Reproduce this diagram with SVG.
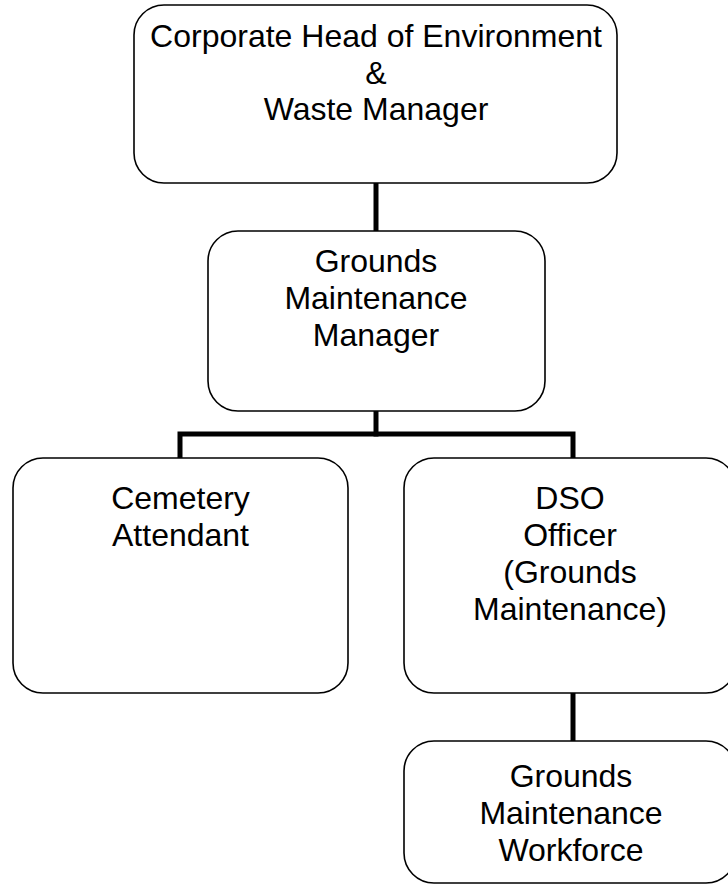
<svg xmlns="http://www.w3.org/2000/svg" width="728" height="886" viewBox="0 0 728 886">
<style>
.box{fill:#fff;stroke:#000;stroke-width:1.6}
.lbl{font-family:"Liberation Sans",Arial,sans-serif;font-size:32px;fill:#000;text-anchor:middle}
.conn{fill:none;stroke:#000;stroke-width:5;stroke-linecap:square}
</style>
<rect width="728" height="886" fill="#fff"/>
<g id="connectors">
<line class="conn" x1="376" y1="184" x2="376" y2="230"/>
<line class="conn" x1="376" y1="411" x2="376" y2="434"/>
<polyline class="conn" points="180,457 180,434 573,434 573,457"/>
<line class="conn" x1="573" y1="693" x2="573" y2="740"/>
</g>
<g id="corporate-head">
<rect class="box" x="134" y="5" width="483" height="178" rx="30"/>
<text class="lbl" x="376" y="47">Corporate Head of Environment</text>
<text class="lbl" x="376" y="84">&amp;</text>
<text class="lbl" x="376" y="120">Waste Manager</text>
</g>
<g id="grounds-manager">
<rect class="box" x="208" y="231" width="337" height="180" rx="30"/>
<text class="lbl" x="376" y="272">Grounds</text>
<text class="lbl" x="376" y="309">Maintenance</text>
<text class="lbl" x="376" y="346">Manager</text>
</g>
<g id="cemetery-attendant">
<rect class="box" x="13" y="458" width="335" height="235" rx="30"/>
<text class="lbl" x="180.5" y="509">Cemetery</text>
<text class="lbl" x="180.5" y="546">Attendant</text>
</g>
<g id="dso-officer">
<rect class="box" x="404" y="458" width="332" height="235" rx="30"/>
<text class="lbl" x="570" y="509">DSO</text>
<text class="lbl" x="570" y="546">Officer</text>
<text class="lbl" x="570" y="583">(Grounds</text>
<text class="lbl" x="570" y="620">Maintenance)</text>
</g>
<g id="grounds-workforce">
<rect class="box" x="404" y="741" width="332" height="142" rx="30"/>
<text class="lbl" x="571" y="787">Grounds</text>
<text class="lbl" x="571" y="824">Maintenance</text>
<text class="lbl" x="571" y="861">Workforce</text>
</g>
</svg>
